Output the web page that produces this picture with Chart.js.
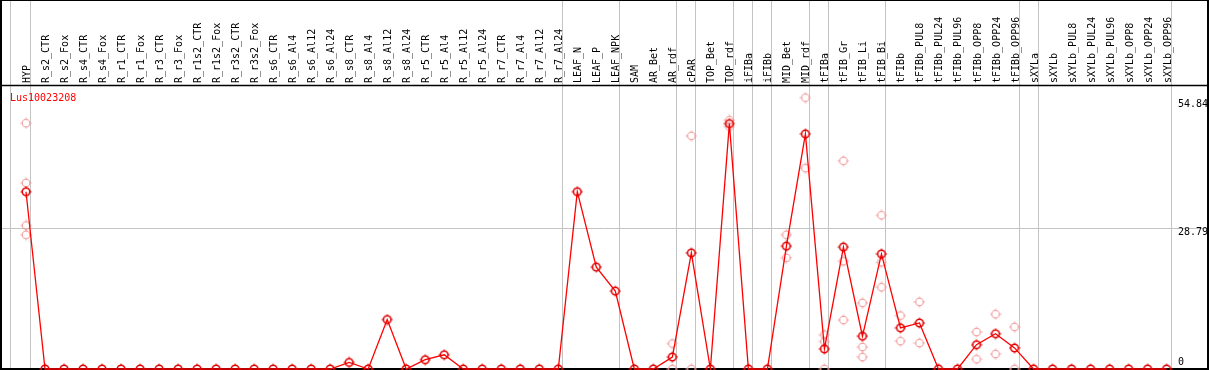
<!DOCTYPE html>
<html>
<head>
  <title>Lus10023208</title>
  <script src="https://cdn.jsdelivr.net/npm/chart.js"></script>
  <style>
    body { margin: 0; background: #fff; }
  </style>
</head>
<body>
  <canvas id="myChart" width="1209" height="370"></canvas>
  <script>
    const geneName = 'Lus10023208';

    const categories = ['HYP', 'R_s2_CTR', 'R_s2_Fox', 'R_s4_CTR', 'R_s4_Fox', 'R_r1_CTR', 'R_r1_Fox',
      'R_r3_CTR', 'R_r3_Fox', 'R_r1s2_CTR', 'R_r1s2_Fox', 'R_r3s2_CTR', 'R_r3s2_Fox',
      'R_s6_CTR', 'R_s6_Al4', 'R_s6_Al12', 'R_s6_Al24', 'R_s8_CTR', 'R_s8_Al4', 'R_s8_Al12', 'R_s8_Al24',
      'R_r5_CTR', 'R_r5_Al4', 'R_r5_Al12', 'R_r5_Al24', 'R_r7_CTR', 'R_r7_Al4', 'R_r7_Al12', 'R_r7_Al24',
      'LEAF_N', 'LEAF_P', 'LEAF_NPK', 'SAM', 'AR_Bet', 'AR_rdf', 'cPAR', 'TOP_Bet', 'TOP_rdf',
      'iFIBa', 'iFIBb', 'MID_Bet', 'MID_rdf', 'tFIBa', 'tFIB_Gr', 'tFIB_Li', 'tFIB_Bi', 'tFIBb',
      'tFIBb_PUL8', 'tFIBb_PUL24', 'tFIBb_PUL96', 'tFIBb_OPP8', 'tFIBb_OPP24', 'tFIBb_OPP96',
      'sXYLa', 'sXYLb', 'sXYLb_PUL8', 'sXYLb_PUL24', 'sXYLb_PUL96', 'sXYLb_OPP8', 'sXYLb_OPP24', 'sXYLb_OPP96'];

    // mean expression per sample
    const meanValues = [36.2, 0, 0, 0, 0, 0, 0,
      0, 0, 0, 0, 0, 0,
      0, 0, 0, 0, 1.35, 0, 10.1, 0,
      1.9, 2.9, 0, 0, 0, 0, 0, 0,
      36.2, 20.8, 15.9, 0, 0, 2.45, 23.7, 0, 50.1,
      0, 0, 25.1, 48.0, 4.1, 24.9, 6.7, 23.5, 8.4,
      9.4, 0, 0, 4.96, 7.2, 4.3,
      0, 0, 0, 0, 0, 0, 0, 0];

    // individual replicates (only where they show)
    const replicateValues = {
      'HYP': [50.2, 38.0, 29.3, 27.4],
      'AR_rdf': [5.2, 0],
      'cPAR': [47.6, 0],
      'TOP_rdf': [50.8, 49.5],
      'MID_Bet': [27.4, 22.7],
      'MID_rdf': [55.4, 41.0],
      'tFIBa': [7.0, 5.6, 0],
      'tFIB_Gr': [42.5, 22.0, 10.0],
      'tFIB_Li': [13.5, 4.5, 2.45],
      'tFIB_Bi': [31.4, 21.8, 16.7],
      'tFIBb': [10.9, 5.7],
      'tFIBb_PUL8': [13.7, 5.3],
      'tFIBb_OPP8': [7.55, 2.0],
      'tFIBb_OPP24': [11.2, 3.06],
      'tFIBb_OPP96': [8.6, 0]
    };

    const yTickValues = [54.84, 28.79, 0];
    const yTickLabels = ['54.84', '28.79', '0'];

    // samples followed by a gray separator line
    const separatorAfter = ['HYP', 'R_r7_Al24', 'LEAF_NPK', 'AR_rdf', 'cPAR', 'TOP_rdf', 'iFIBa',
      'iFIBb', 'MID_rdf', 'tFIBa', 'tFIB_Bi', 'tFIBb_OPP96', 'sXYLa', 'sXYLb_OPP96'];

    const FONT = '10px "DejaVu Sans Mono", monospace';

    function makeMarker(color, lw) {
      const c = document.createElement('canvas');
      c.width = 12; c.height = 12;
      const g = c.getContext('2d');
      g.strokeStyle = color;
      g.lineWidth = lw;
      g.beginPath();
      g.arc(6, 6, 3.8, 0, Math.PI * 2);
      g.stroke();
      g.lineWidth = 1;
      g.beginPath();
      g.moveTo(6, 0.5); g.lineTo(6, 2.5);
      g.moveTo(6, 9.5); g.lineTo(6, 11.5);
      g.moveTo(0.5, 6); g.lineTo(2.5, 6);
      g.moveTo(9.5, 6); g.lineTo(11.5, 6);
      g.stroke();
      return c;
    }

    const mainPoints = meanValues.map((v, i) => ({ x: i, y: v }));
    const repPoints = [];
    categories.forEach((name, i) => {
      (replicateValues[name] || []).forEach(v => repPoints.push({ x: i, y: v }));
    });

    const framePlugin = {
      id: 'frame',
      beforeDatasetsDraw(chart) {
        const ctx = chart.ctx;
        const xs = chart.scales.x, ys = chart.scales.y;
        const W = chart.width, H = chart.height;
        ctx.save();
        // gray lines
        ctx.strokeStyle = '#c4c4c4';
        ctx.lineWidth = 1;
        ctx.beginPath();
        const x0 = Math.round(xs.getPixelForValue(-0.842)) + 0.5;
        ctx.moveTo(x0, 0); ctx.lineTo(x0, H);
        separatorAfter.forEach(name => {
          const x = Math.round(xs.getPixelForValue(categories.indexOf(name)) + 4) + 0.5;
          ctx.moveTo(x, 0); ctx.lineTo(x, H);
        });
        const yg = Math.round(ys.getPixelForValue(28.79)) + 0.5;
        ctx.moveTo(0, yg); ctx.lineTo(W, yg);
        ctx.stroke();

        // sample labels
        ctx.fillStyle = '#000';
        ctx.font = FONT;
        ctx.textAlign = 'left';
        ctx.textBaseline = 'alphabetic';
        categories.forEach((name, i) => {
          const x = xs.getPixelForValue(i) + 4;
          ctx.save();
          ctx.translate(x, 83);
          ctx.rotate(-Math.PI / 2);
          ctx.fillText(name, 0, 0);
          ctx.restore();
        });

        // gene name
        ctx.fillStyle = '#ff0000';
        ctx.fillText(geneName, 10, 101);

        // y labels
        ctx.fillStyle = '#000';
        const offs = [7, 7, -4];
        yTickValues.forEach((v, k) => {
          ctx.fillText(yTickLabels[k], 1178, ys.getPixelForValue(v) + offs[k]);
        });

        // black frame
        ctx.strokeStyle = '#000';
        ctx.lineWidth = 2;
        ctx.strokeRect(1, 0, W - 2, H - 1);
        ctx.beginPath();
        ctx.moveTo(0, 85.5); ctx.lineTo(W, 85.5);
        ctx.lineWidth = 1.5;
        ctx.stroke();
        ctx.restore();
      }
    };

    const chartConfig = {
      type: 'scatter',
      data: {
        datasets: [
          {
            label: 'mean',
            data: mainPoints,
            showLine: true,
            borderColor: '#ff0000',
            borderWidth: 1.3,
            pointStyle: makeMarker('#e00000', 1.6),
            clip: false,
            order: 0
          },
          {
            label: 'replicates',
            data: repPoints,
            pointStyle: makeMarker('#f29a9a', 1.1),
            clip: false,
            order: 1
          }
        ]
      },
      options: {
        responsive: false,
        animation: false,
        layout: { autoPadding: false, padding: { top: 86, bottom: 1, left: 0, right: 0 } },
        scales: {
          x: { type: 'linear', display: false, min: -1.368, max: 62.23 },
          y: { display: false, min: 0, max: 57.78 }
        },
        plugins: {
          legend: { display: false },
          tooltip: { enabled: false }
        }
      },
      plugins: [framePlugin]
    };
    const myChart = new Chart(document.getElementById('myChart'), chartConfig);
  </script>
</body>
</html>
